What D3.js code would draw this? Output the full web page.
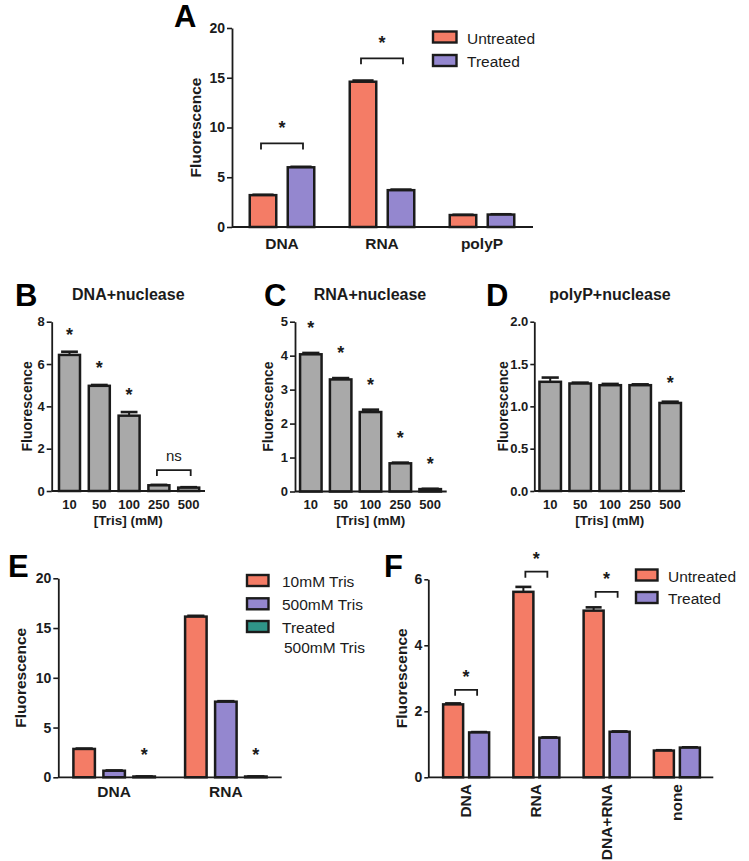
<!DOCTYPE html>
<html><head><meta charset="utf-8">
<script src="https://cdn.jsdelivr.net/npm/d3@7"></script>
<style>body{margin:0;background:#fff} svg{display:block}</style>
</head><body>
<svg id="fig" width="749" height="861"></svg>
<script>
// ---------- DATA ----------
// Panel A
const aCategories = ["DNA", "RNA", "polyP"];
const aSeries = ["Untreated", "Treated"];
const aUntreated = [3.2, 14.6, 1.2];
const aTreated = [6.0, 3.7, 1.25];
const aUntreatedErr = [0.04, 0.12, 0.03];
const aTreatedErr = [0.05, 0.06, 0.03];
const aYTicks = [0, 5, 10, 15, 20];
const aSigCats = ["DNA", "RNA"];
const aSigLevels = [8.4, 16.95];

// Panels B, C, D
const trisLabels = ["10", "50", "100", "250", "500"];
const bValues = [6.43, 4.97, 3.56, 0.27, 0.16];
const bErr = [0.15, 0.04, 0.17, 0.02, 0.02];
const bStarred = ["10", "50", "100"];
const bYTicks = [0, 2, 4, 6, 8];
const bNsPair = ["250", "500"];
const bNsLevel = 0.99;

const cValues = [4.04, 3.30, 2.34, 0.83, 0.07];
const cErr = [0.04, 0.04, 0.07, 0.02, 0.01];
const cStarred = ["10", "50", "100", "250", "500"];
const cYTicks = [0, 1, 2, 3, 4, 5];

const dValues = [1.29, 1.27, 1.25, 1.25, 1.04];
const dErr = [0.05, 0.01, 0.015, 0.01, 0.015];
const dStarred = ["500"];
const dYTicks = [0, 0.5, 1.0, 1.5, 2.0];

// Panel E
const eCategories = ["DNA", "RNA"];
const eSeries = ["10mM Tris", "500mM Tris", "Treated 500mM Tris"];
const e10mM = [2.85, 16.15];
const e500mM = [0.66, 7.6];
const eTreated500 = [0.08, 0.08];
const e10mMErr = [0.04, 0.08];
const e500mMErr = [0.03, 0.05];
const eTreatedErr = [0.01, 0.01];
const eYTicks = [0, 5, 10, 15, 20];

// Panel F
const fCategories = ["DNA", "RNA", "DNA+RNA", "none"];
const fSeries = ["Untreated", "Treated"];
const fUntreated = [2.21, 5.62, 5.05, 0.81];
const fTreated = [1.36, 1.2, 1.38, 0.9];
const fUntreatedErr = [0.03, 0.15, 0.1, 0.01];
const fTreatedErr = [0.01, 0.01, 0.01, 0.01];
const fYTicks = [0, 2, 4, 6];
const fSigCats = ["DNA", "RNA", "DNA+RNA"];
const fSigLevels = [2.65, 6.23, 5.62];

// ---------- STYLE ----------
const FONT = "'Liberation Sans', Arial, Helvetica, sans-serif";
const INK = "#1b1b1b";
const SALMON = "#F47C66";
const PURPLE = "#9487CF";
const TEAL = "#2F9488";
const GRAY = "#A9A9A9";

const svg = d3.select("#fig");

function panel(cfg) {
  const g = svg.append("g");
  const y = d3.scaleLinear().domain([0, cfg.yMax]).range([cfg.y0, cfg.y1]);
  const x0 = d3.scaleBand().domain(cfg.groups).range(cfg.bandRange).padding(0);
  const n = cfg.series.length;
  const inner = n * cfg.barW + (n - 1) * cfg.barGap;
  const x1 = d3.scaleBand().domain(cfg.series).range([-inner / 2, inner / 2])
    .paddingInner(n > 1 ? cfg.barGap / (cfg.barW + cfg.barGap) : 0);
  const cx = (grp, s) => x0(grp) + x0.bandwidth() / 2 + x1(s) + x1.bandwidth() / 2;

  const rows = [];
  cfg.series.forEach((s, si) => cfg.groups.forEach((grp, gi) => rows.push({
    s, si, grp, v: cfg.values[si][gi], e: cfg.errors[si][gi]
  })));

  // error bars (upper)
  g.selectAll("line.err").data(rows).join("line")
    .attr("x1", d => cx(d.grp, d.s)).attr("x2", d => cx(d.grp, d.s))
    .attr("y1", d => y(d.v)).attr("y2", d => y(d.v + d.e))
    .attr("stroke", INK).attr("stroke-width", 2);
  g.selectAll("line.cap").data(rows).join("line")
    .attr("x1", d => cx(d.grp, d.s) - cfg.barW * 0.4).attr("x2", d => cx(d.grp, d.s) + cfg.barW * 0.4)
    .attr("y1", d => y(d.v + d.e)).attr("y2", d => y(d.v + d.e))
    .attr("stroke", INK).attr("stroke-width", 2.6);

  // bars
  g.selectAll("rect.bar").data(rows).join("rect")
    .attr("x", d => cx(d.grp, d.s) - x1.bandwidth() / 2)
    .attr("width", x1.bandwidth())
    .attr("y", d => y(d.v))
    .attr("height", d => Math.max(0.5, y(0) - y(d.v)))
    .attr("fill", d => cfg.colors[d.si])
    .attr("stroke", INK).attr("stroke-width", 2.5);

  // y axis
  const ax = g.append("g").attr("transform", `translate(${cfg.axisX},0)`)
    .call(d3.axisLeft(y).tickValues(cfg.ticks).tickSize(cfg.tickSize || 5).tickSizeOuter(0)
      .tickPadding(2).tickFormat(cfg.tickFormat || d3.format("d")));
  ax.select(".domain").attr("stroke", INK).attr("stroke-width", 1.8);
  ax.selectAll(".tick line").attr("stroke", INK).attr("stroke-width", 1.6);
  ax.selectAll(".tick text").attr("fill", INK).attr("font-family", FONT)
    .attr("font-weight", "bold").attr("font-size", cfg.tickFont);

  // x axis line
  g.append("line").attr("x1", cfg.axisX).attr("x2", cfg.axisRight)
    .attr("y1", y(0)).attr("y2", y(0)).attr("stroke", INK).attr("stroke-width", 1.8);

  // category labels
  const labs = g.selectAll("text.cat").data(cfg.groups).join("text")
    .attr("font-family", FONT).attr("font-weight", "bold").attr("font-size", cfg.catFont)
    .attr("fill", INK).text(d => d);
  if (cfg.rotateCats) {
    labs.attr("text-anchor", "end")
      .attr("transform", d => `translate(${x0(d) + x0.bandwidth() / 2 + 5},${cfg.catY}) rotate(-90)`);
  } else {
    labs.attr("text-anchor", "middle")
      .attr("x", d => x0(d) + x0.bandwidth() / 2).attr("y", cfg.catY);
  }

  // y title
  g.append("text").attr("transform", `translate(${cfg.yTitleX},${(cfg.y0 + cfg.y1) / 2}) rotate(-90)`)
    .attr("text-anchor", "middle").attr("dominant-baseline", "central")
    .attr("font-family", FONT).attr("font-weight", "bold").attr("font-size", cfg.yTitleFont)
    .attr("fill", INK).text("Fluorescence");

  // x title
  if (cfg.xTitle) {
    g.append("text").attr("x", (cfg.axisX + cfg.axisRight) / 2).attr("y", cfg.xTitleY)
      .attr("text-anchor", "middle").attr("font-family", FONT).attr("font-weight", "bold")
      .attr("font-size", cfg.xTitleFont).attr("fill", INK).text(cfg.xTitle);
  }
  // panel title
  if (cfg.title) {
    g.append("text").attr("x", cfg.titleX).attr("y", cfg.titleY)
      .attr("text-anchor", "middle").attr("font-family", FONT).attr("font-weight", "bold")
      .attr("font-size", 16).attr("fill", INK).text(cfg.title);
  }
  // panel letter
  g.append("text").attr("x", cfg.letterX).attr("y", cfg.letterY)
    .attr("font-family", FONT).attr("font-weight", "bold").attr("font-size", 31)
    .attr("fill", "#000").text(cfg.letter);

  // single stars above bars
  if (cfg.stars) {
    g.selectAll("text.star").data(rows.filter(d => cfg.stars.some(st => st[0] === d.grp && st[1] === d.s)))
      .join("text").attr("text-anchor", "middle")
      .attr("x", d => cx(d.grp, d.s))
      .attr("y", d => y(d.v + d.e) - cfg.starOffset + 9)
      .attr("font-family", FONT).attr("font-weight", "bold").attr("font-size", 18)
      .attr("fill", INK).text("*");
  }
  // brackets
  if (cfg.brackets) {
    cfg.brackets.forEach(b => {
      const xa = cx(b.g1, b.s1) + (b.inset || 0);
      const xb = cx(b.g2, b.s2) - (b.inset || 0);
      const yy = y(b.level);
      g.append("path").attr("d", `M${xa},${yy + 6}V${yy}H${xb}V${yy + 6}`)
        .attr("fill", "none").attr("stroke", INK).attr("stroke-width", 1.8);
      g.append("text").attr("x", (xa + xb) / 2)
        .attr("y", b.label === "*" ? yy - b.gap + 9 : yy - b.gap)
        .attr("text-anchor", "middle").attr("font-family", FONT)
        .attr("font-weight", b.label === "*" ? "bold" : "normal")
        .attr("font-size", b.label === "*" ? 18 : 15).attr("fill", INK).text(b.label);
    });
  }
  // legend
  if (cfg.legend) {
    const L = cfg.legend;
    L.items.forEach((it, i) => {
      g.append("rect").attr("x", L.x).attr("y", L.ys[i]).attr("width", L.w).attr("height", L.h)
        .attr("fill", cfg.colors[i]).attr("stroke", INK).attr("stroke-width", 2.4);
      it.forEach((ln, j) => {
        g.append("text").attr("x", L.tx + (j > 0 ? 2 : 0)).attr("y", L.ys[i] + L.h + 1 + j * L.lineGap)
          .attr("font-family", FONT).attr("font-size", L.font).attr("fill", INK).text(ln);
      });
    });
  }
  return g;
}

// Panel A
panel({
  letter: "A", letterX: 174, letterY: 27,
  groups: aCategories, series: aSeries,
  values: [aUntreated, aTreated], errors: [aUntreatedErr, aTreatedErr],
  colors: [SALMON, PURPLE],
  yMax: 20, y0: 227, y1: 28, ticks: aYTicks,
  bandRange: [232, 532], axisX: 232, axisRight: 533,
  barW: 26.5, barGap: 11.5,
  tickFont: 14, catFont: 15.5, catY: 249,
  yTitleX: 195, yTitleFont: 15.5,
  brackets: aSigCats.map((c, i) => ({ g1: c, s1: "Untreated", g2: c, s2: "Treated", level: aSigLevels[i], label: "*", gap: 18, inset: -2 })),
  legend: { x: 433, ys: [31.5, 55], w: 23.5, h: 11, tx: 467, font: 15.5, lineGap: 19,
            items: aSeries.map(s => [s]) }
});

// Panel B
panel({
  letter: "B", letterX: 15, letterY: 306,
  title: "DNA+nuclease", titleX: 128.3, titleY: 300,
  groups: trisLabels, series: ["B"],
  values: [bValues], errors: [bErr], colors: [GRAY],
  yMax: 8, y0: 491, y1: 321.7, ticks: bYTicks,
  bandRange: [54.6, 203.6], axisX: 51.7, axisRight: 205,
  barW: 21, barGap: 0, tickSize: 5,
  tickFont: 13, catFont: 13, catY: 509,
  xTitle: "[Tris] (mM)", xTitleY: 525, xTitleFont: 13.5,
  yTitleX: 27, yTitleFont: 14,
  stars: bStarred.map(t => [t, "B"]), starOffset: 20,
  brackets: [{ g1: bNsPair[0], s1: "B", g2: bNsPair[1], s2: "B", level: bNsLevel, label: "ns", gap: 9, inset: -2 }]
});

// Panel C
panel({
  letter: "C", letterX: 264, letterY: 306,
  title: "RNA+nuclease", titleX: 370, titleY: 300,
  groups: trisLabels, series: ["C"],
  values: [cValues], errors: [cErr], colors: [GRAY],
  yMax: 5, y0: 491.5, y1: 321.7, ticks: cYTicks,
  bandRange: [295.9, 445.1], axisX: 295, axisRight: 446.7,
  barW: 21.5, barGap: 0, tickSize: 5,
  tickFont: 13, catFont: 13, catY: 509,
  xTitle: "[Tris] (mM)", xTitleY: 525, xTitleFont: 13.5,
  yTitleX: 268.3, yTitleFont: 14,
  stars: cStarred.map(t => [t, "C"]), starOffset: 28
});

// Panel D
panel({
  letter: "D", letterX: 486, letterY: 306,
  title: "polyP+nuclease", titleX: 610, titleY: 300,
  groups: trisLabels, series: ["D"],
  values: [dValues], errors: [dErr], colors: [GRAY],
  yMax: 2, y0: 491, y1: 321.7, ticks: dYTicks, tickFormat: d3.format(".1f"),
  bandRange: [535.2, 685.2], axisX: 534.3, axisRight: 685,
  barW: 21.5, barGap: 0, tickSize: 4,
  tickFont: 13, catFont: 13, catY: 509,
  xTitle: "[Tris] (mM)", xTitleY: 525, xTitleFont: 13.5,
  yTitleX: 503, yTitleFont: 14,
  stars: dStarred.map(t => [t, "D"]), starOffset: 22
});

// Panel E
panel({
  letter: "E", letterX: 8, letterY: 577,
  groups: eCategories, series: eSeries,
  values: [e10mM, e500mM, eTreated500], errors: [e10mMErr, e500mMErr, eTreatedErr],
  colors: [SALMON, PURPLE, TEAL],
  yMax: 20, y0: 777.3, y1: 578.3, ticks: eYTicks,
  bandRange: [58.3, 281.7], axisX: 58.3, axisRight: 281.7,
  barW: 21.5, barGap: 8.5, tickSize: 5,
  tickFont: 14, catFont: 15.5, catY: 797,
  yTitleX: 20, yTitleFont: 15.5,
  stars: eCategories.map(c => [c, eSeries[2]]), starOffset: 24,
  legend: { x: 247, ys: [575, 598.3, 621], w: 21.5, h: 11, tx: 282, font: 15.5, lineGap: 19.5,
            items: [["10mM Tris"], ["500mM Tris"], ["Treated", "500mM Tris"]] }
});

// Panel F
panel({
  letter: "F", letterX: 384, letterY: 577,
  groups: fCategories, series: fSeries,
  values: [fUntreated, fTreated], errors: [fUntreatedErr, fTreatedErr],
  colors: [SALMON, PURPLE],
  yMax: 6, y0: 777.3, y1: 579.3, ticks: fYTicks,
  bandRange: [431, 712], axisX: 428.3, axisRight: 713.3,
  barW: 20, barGap: 6, tickSize: 4,
  tickFont: 14, catFont: 15.5, catY: 784, rotateCats: true,
  yTitleX: 401.7, yTitleFont: 15.5,
  brackets: fSigCats.map((c, i) => ({ g1: c, s1: "Untreated", g2: c, s2: "Treated", level: fSigLevels[i], label: "*", gap: 16, inset: 2 })),
  legend: { x: 636, ys: [569.5, 592], w: 21.5, h: 11, tx: 668, font: 15.5, lineGap: 19,
            items: fSeries.map(s => [s]) }
});
</script>
</body></html>
